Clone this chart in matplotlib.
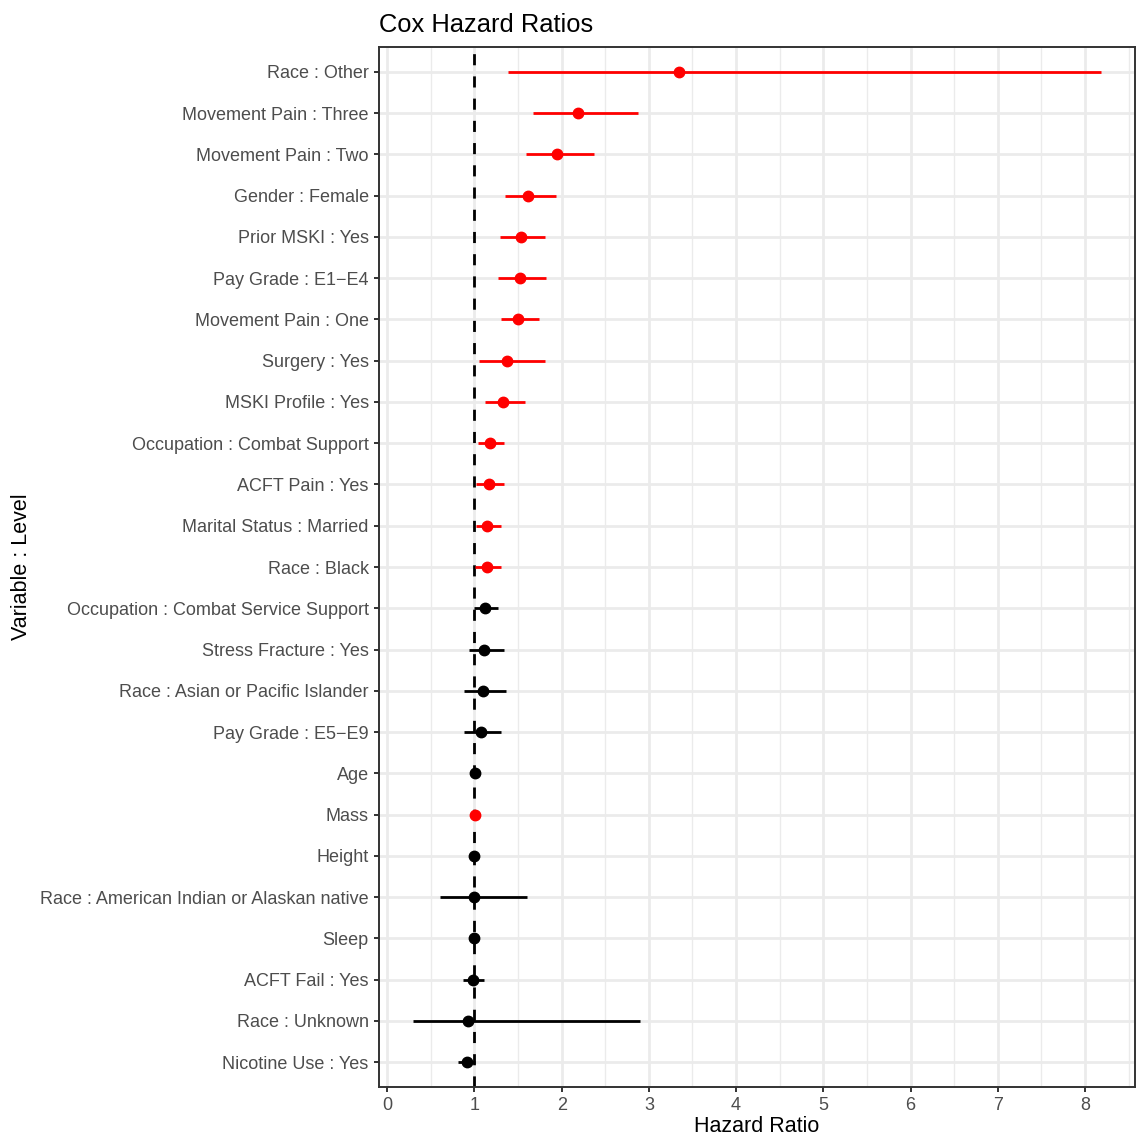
import matplotlib
matplotlib.use("Agg")
import matplotlib.pyplot as plt
import numpy as np

labels = [
    "Race : Other", "Movement Pain : Three", "Movement Pain : Two", "Gender : Female",
    "Prior MSKI : Yes", "Pay Grade : E1\u2212E4", "Movement Pain : One", "Surgery : Yes",
    "MSKI Profile : Yes", "Occupation : Combat Support", "ACFT Pain : Yes",
    "Marital Status : Married", "Race : Black", "Occupation : Combat Service Support",
    "Stress Fracture : Yes", "Race : Asian or Pacific Islander", "Pay Grade : E5\u2212E9",
    "Age", "Mass", "Height", "Race : American Indian or Alaskan native", "Sleep",
    "ACFT Fail : Yes", "Race : Unknown", "Nicotine Use : Yes",
]
hr = [3.35, 2.19, 1.945, 1.61, 1.53, 1.52, 1.505, 1.37, 1.33, 1.18, 1.17, 1.15, 1.14,
      1.12, 1.115, 1.10, 1.07, 1.01, 1.008, 0.997, 0.99, 0.99, 0.98, 0.93, 0.91]
lower = [1.38, 1.67, 1.59, 1.35, 1.29, 1.27, 1.31, 1.05, 1.12, 1.04, 1.02, 1.02, 1.01,
         0.995, 0.94, 0.88, 0.88, 0.995, 1.003, 0.99, 0.61, 0.98, 0.865, 0.30, 0.81]
upper = [8.18, 2.87, 2.37, 1.93, 1.805, 1.82, 1.74, 1.805, 1.58, 1.34, 1.34, 1.30, 1.30,
         1.27, 1.34, 1.365, 1.31, 1.02, 1.013, 1.005, 1.60, 1.00, 1.11, 2.90, 1.005]

W, H = 1137, 1137
fig = plt.figure(figsize=(W / 100, H / 100), dpi=100)
plt.rcParams["font.family"] = ["Liberation Sans", "DejaVu Sans"]

ax = fig.add_axes([379 / W, 1 - 1087 / H, (1135 - 379) / W, (1087 - 47) / H])

n = len(labels)
ypos = n - 1 - np.arange(n)

ax.axvline(1, color="black", lw=2.0, ls=(0, (4, 4)), zorder=2)

for y, h, lo, hi in zip(ypos, hr, lower, upper):
    col = "#FF0000" if (lo > 1 or hi < 1) else "black"
    ax.plot([lo, hi], [y, y], color=col, lw=2.0, solid_capstyle="butt", zorder=3)
    ax.plot([h], [y], "o", color=col, ms=7.5, mec=col, zorder=4)

xmin = min(lower + [1]); xmax = max(upper + [1])
rng = xmax - xmin
ax.set_xlim(xmin - 0.05 * rng, xmax + 0.05 * rng)
ax.set_ylim(-0.6, n - 0.4)

ax.set_xticks(np.arange(0, 9, 1))
ax.set_xticks(np.arange(0.5, 8.6, 1), minor=True)
ax.set_yticks(ypos)
ax.set_yticklabels(labels)

ax.grid(True, which="major", color="#EBEBEB", lw=2.0, zorder=0)
ax.grid(True, which="minor", axis="x", color="#EBEBEB", lw=1.0, zorder=0)
ax.set_axisbelow(True)

for s in ax.spines.values():
    s.set_color("#333333")
    s.set_linewidth(1.4)

ax.tick_params(axis="both", which="major", length=3.9, width=1.4, color="#333333",
               labelsize=13.0, labelcolor="#4D4D4D", pad=3.5)
ax.tick_params(axis="both", which="minor", length=0)

ax.set_xlabel("Hazard Ratio", fontsize=15.5, color="black", labelpad=1.5)
fig.text(22 / W, 1 - 567 / H, "Variable : Level", rotation=90, fontsize=15.5,
         ha="center", va="center", color="black")
ax.set_title("Cox Hazard Ratios", loc="left", fontsize=18.4, color="black", pad=11)

fig.savefig("out.png", dpi=100)
